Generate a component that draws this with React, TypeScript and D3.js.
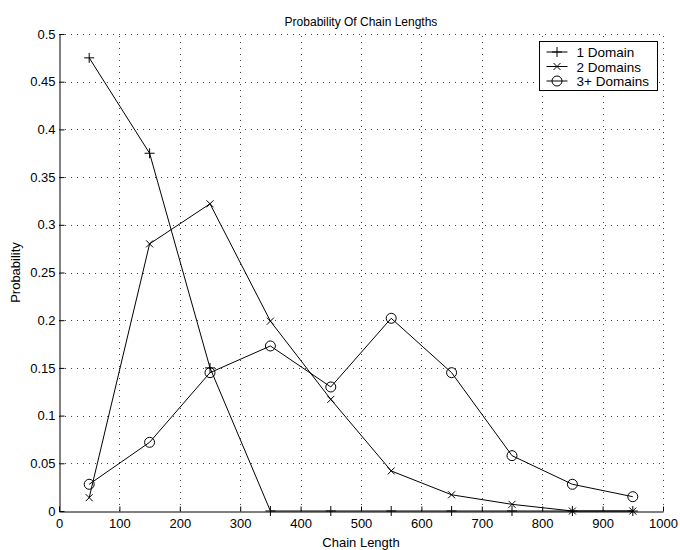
import {useEffect, useRef} from "react";
import * as d3 from "d3";

const lengths = [50, 150, 250, 350, 450, 550, 650, 750, 850, 950];
const oneDomain = [0.475, 0.375, 0.15, 0, 0, 0, 0, 0, 0, 0];
const twoDomains = [0.014, 0.28, 0.322, 0.199, 0.117, 0.042, 0.017, 0.007, 0, 0];
const threePlus = [0.028, 0.072, 0.145, 0.173, 0.13, 0.202, 0.145, 0.058, 0.028, 0.015];
const seriesNames = ["1 Domain", "2 Domains", "3+ Domains"];
const xTicks = [0, 100, 200, 300, 400, 500, 600, 700, 800, 900, 1000];
const yTicks = [0, 0.05, 0.1, 0.15, 0.2, 0.25, 0.3, 0.35, 0.4, 0.45, 0.5];

const FONT = "'Liberation Sans', Arial, Helvetica, sans-serif";

export default function App() {
    const ref = useRef<SVGSVGElement>(null);

    useEffect(() => {
        const el = ref.current;
        if(!el) return;
        const svg = d3.select(el);
        svg.selectAll("*").remove();

        const width = 680;
        const height = 550;
        const margin = {top: 34, right: 17, bottom: 39, left: 59};

        const x = d3.scaleLinear().domain([0, 1000]).range([margin.left, width - margin.right]);
        const y = d3.scaleLinear().domain([0, 0.5]).range([height - margin.bottom, margin.top]);

        svg.append("rect").attr("width", width).attr("height", height).attr("fill", "#fff");

        // dotted grid
        const grid = svg.append("g").attr("stroke", "#444").attr("stroke-width", 1)
            .attr("stroke-dasharray", "1,5");
        grid.selectAll("line.v").data(xTicks.slice(1)).join("line")
            .attr("class", "v")
            .attr("x1", (d) => Math.round(x(d)) + 0.5).attr("x2", (d) => Math.round(x(d)) + 0.5)
            .attr("y1", y(0)).attr("y2", y(0.5));
        grid.selectAll("line.h").data(yTicks.slice(1)).join("line")
            .attr("class", "h")
            .attr("y1", (d) => Math.round(y(d)) + 0.5).attr("y2", (d) => Math.round(y(d)) + 0.5)
            .attr("x1", x(0)).attr("x2", x(1000));

        // axes (inward ticks)
        svg.append("g")
            .attr("transform", `translate(0, ${Math.round(y(0)) + 0.5})`)
            .call(d3.axisBottom(x).tickValues(xTicks).tickFormat((d) => `${+d}`)
                .tickSizeInner(-5).tickSizeOuter(0).tickPadding(7))
            .call((g) => g.selectAll("text").attr("font-family", FONT).attr("font-size", 13).attr("fill", "#000"))
            .call((g) => g.selectAll("line, path").attr("stroke", "#000"));

        svg.append("g")
            .attr("transform", `translate(${Math.round(x(0)) + 0.5}, 0)`)
            .call(d3.axisLeft(y).tickValues(yTicks).tickFormat((d) => `${+d}`)
                .tickSizeInner(-5).tickSizeOuter(0).tickPadding(4))
            .call((g) => g.selectAll("text").attr("font-family", FONT).attr("font-size", 13).attr("fill", "#000"))
            .call((g) => g.selectAll("line, path").attr("stroke", "#000"));

        // labels
        svg.append("text").attr("x", x(500)).attr("y", 26).attr("text-anchor", "middle")
            .attr("font-family", FONT).attr("font-size", 12).text("Probability Of Chain Lengths");
        svg.append("text").attr("x", x(500)).attr("y", 547).attr("text-anchor", "middle")
            .attr("font-family", FONT).attr("font-size", 13).text("Chain Length");
        svg.append("text").attr("transform", `translate(20, ${y(0.25)}) rotate(-90)`)
            .attr("text-anchor", "middle").attr("font-family", FONT).attr("font-size", 13).text("Probability");

        const line = d3.line<number>().x((_, i) => x(lengths[i])).y((d) => y(d));

        const drawMarker = (g: any, kind: number, cx: number, cy: number) => {
            if(kind === 0) {
                g.append("path").attr("d", `M${cx - 5},${cy}H${cx + 5}M${cx},${cy - 5}V${cy + 5}`)
                    .attr("stroke", "#000").attr("fill", "none");
            } else if(kind === 1) {
                g.append("path").attr("d", `M${cx - 3.5},${cy - 3.5}L${cx + 3.5},${cy + 3.5}M${cx - 3.5},${cy + 3.5}L${cx + 3.5},${cy - 3.5}`)
                    .attr("stroke", "#000").attr("fill", "none");
            } else {
                g.append("circle").attr("cx", cx).attr("cy", cy).attr("r", 5)
                    .attr("stroke", "#000").attr("fill", "none");
            }
        };

        const data = [oneDomain, twoDomains, threePlus];
        data.forEach((vals, k) => {
            const g = svg.append("g");
            g.append("path").datum(vals).attr("d", line).attr("fill", "none")
                .attr("stroke", "#000").attr("stroke-width", 1);
            vals.forEach((v, i) => drawMarker(g, k, x(lengths[i]), y(v)));
        });

        // legend
        const lg = svg.append("g").attr("transform", "translate(539.5, 41.5)");
        lg.append("rect").attr("width", 118).attr("height", 49).attr("fill", "#fff").attr("stroke", "#000");
        seriesNames.forEach((name, k) => {
            const cy = 10.5 + k * 14.5;
            lg.append("line").attr("x1", 7).attr("x2", 28).attr("y1", cy).attr("y2", cy).attr("stroke", "#000");
            drawMarker(lg, k, 17.5, cy);
            lg.append("text").attr("x", 37).attr("y", cy + 5).attr("font-family", FONT)
                .attr("font-size", 13.5).text(name);
        });
    }, []);

    return (
        <svg ref={ref} width={680} height={550}
            style={{position: "absolute", left: 0, top: 0, display: "block"}} />
    );
}
